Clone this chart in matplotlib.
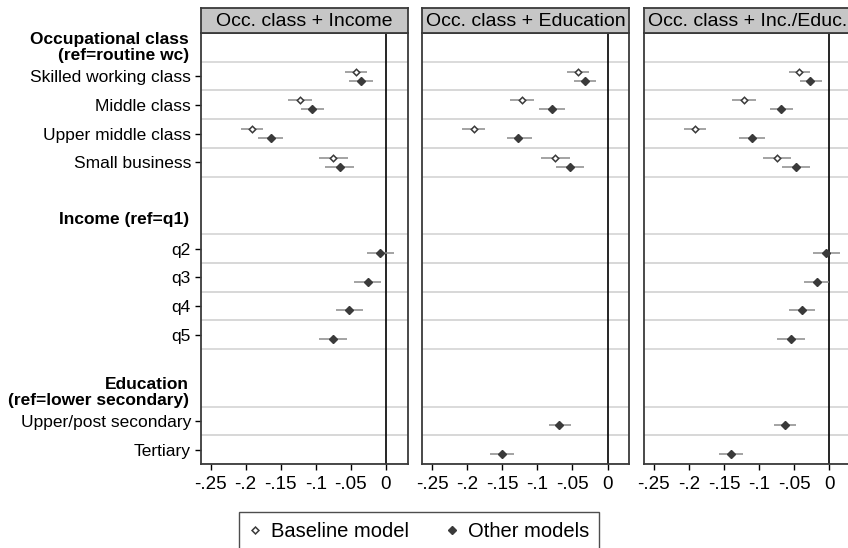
import numpy as np
import matplotlib
matplotlib.use("Agg")
import matplotlib.pyplot as plt
from matplotlib.lines import Line2D

plt.rcParams['font.family'] = ['Liberation Sans', 'DejaVu Sans']

# groups of rows: header text and the item labels under it
group_headers = ["Occupational class\n(ref=routine wc)", "Income (ref=q1)",
                 "Education\n(ref=lower secondary)"]
group_items = [["Skilled working class", "Middle class", "Upper middle class", "Small business"],
               ["q2", "q3", "q4", "q5"],
               ["Upper/post secondary", "Tertiary"]]

panel_titles = ["Occ. class + Income", "Occ. class + Education", "Occ. class + Inc./Educ."]

xticks = [-0.25, -0.2, -0.15, -0.1, -0.05, 0]
xtick_labels = ["-.25", "-.2", "-.15", "-.1", "-.05", "0"]

# baseline model (occupational class only), same in every panel
base_est = [-0.0425, -0.122, -0.191, -0.075]
base_lo = [-0.058, -0.139, -0.207, -0.095]
base_hi = [-0.027, -0.105, -0.175, -0.054]

nan = np.nan
# other models, one list per panel over all 10 item rows
other_est = [
    [-0.036, -0.105, -0.164, -0.066, -0.008, -0.026, -0.052, -0.076, nan, nan],
    [-0.032, -0.079, -0.127, -0.053, nan, nan, nan, nan, -0.069, -0.150],
    [-0.027, -0.069, -0.110, -0.047, -0.004, -0.018, -0.039, -0.055, -0.063, -0.140],
]
other_lo = [
    [-0.052, -0.121, -0.182, -0.087, -0.027, -0.045, -0.071, -0.095, nan, nan],
    [-0.048, -0.097, -0.144, -0.073, nan, nan, nan, nan, -0.084, -0.167],
    [-0.042, -0.085, -0.128, -0.068, -0.023, -0.036, -0.058, -0.074, -0.079, -0.157],
]
other_hi = [
    [-0.019, -0.088, -0.147, -0.045, 0.012, -0.007, -0.033, -0.056, nan, nan],
    [-0.016, -0.061, -0.108, -0.033, nan, nan, nan, nan, -0.052, -0.134],
    [-0.010, -0.051, -0.091, -0.027, 0.016, -0.001, -0.021, -0.035, -0.048, -0.123],
]

# row positions: header, items, then a blank row between groups
header_pos, item_pos, item_labels = [], [], []
r = 0
for g, (h, items) in enumerate(zip(group_headers, group_items)):
    header_pos.append(r)
    r += 1
    for it in items:
        item_pos.append(r)
        item_labels.append(it)
        r += 1
    if g < len(group_headers) - 1:
        r += 1
nrows = r
item_pos = np.array(item_pos)
off = 0.157

W, H = 848, 548
fig = plt.figure(figsize=(W / 100, H / 100), dpi=100)

lefts = [200.7, 422.3, 644.0]
pw = 207.0
top, bottom = 33.0, 464.0
strip_h = 25.0
dark = "#3a3a3a"
fs = 12.5

for p in range(3):
    ax = fig.add_axes([lefts[p] / W, 1 - bottom / H, pw / W, (bottom - top) / H])
    ax.set_xlim(-0.264, 0.031)
    ax.set_ylim(nrows - 0.5, -0.5)

    # light gridlines around each item row
    for y in item_pos:
        ax.axhline(y - 0.5, color="#d8d8d8", lw=1.3, zorder=0)
        ax.axhline(y + 0.5, color="#d8d8d8", lw=1.3, zorder=0)
    ax.axvline(0, color="black", lw=1.2, zorder=1)

    # baseline (hollow)
    yb = item_pos[:len(base_est)] - off
    ax.hlines(yb, base_lo, base_hi, color="#8a8a8a", lw=1.1, zorder=2)
    ax.plot(base_est, yb, "D", ms=3.3, mfc="white", mec=dark, mew=1.1, zorder=3)

    # other models (filled)
    yo = item_pos + off
    ax.hlines(yo, other_lo[p], other_hi[p], color="#8a8a8a", lw=1.1, zorder=2)
    ax.plot(other_est[p], yo, "D", ms=4.2, color=dark, mec=dark, zorder=3)

    ax.set_xticks(xticks)
    ax.set_xticklabels(xtick_labels, fontsize=13.5)
    ax.tick_params(axis="x", direction="out", length=4.5, width=1.0, pad=4, colors="black")
    if p == 0:
        ax.set_yticks(item_pos)
        ax.set_yticklabels(item_labels, fontsize=fs)
        ax.tick_params(axis="y", direction="out", length=4, width=1.0, pad=3)
        for hp, ht in zip(header_pos, group_headers):
            ax.text(-0.058, hp, ht, transform=ax.get_yaxis_transform(), ha="right",
                    va="center", fontsize=fs, fontweight="bold", linespacing=1.1)
    else:
        ax.set_yticks([])
    for s in ax.spines.values():
        s.set_color(dark)
        s.set_linewidth(1.3)

    # strip header
    sax = fig.add_axes([lefts[p] / W, 1 - top / H, pw / W, strip_h / H])
    sax.set_facecolor("#c6c6c6")
    sax.set_xticks([])
    sax.set_yticks([])
    for s in sax.spines.values():
        s.set_color(dark)
        s.set_linewidth(1.3)
    sax.text(0.5, 0.45, panel_titles[p], ha="center", va="center", fontsize=14)

handles = [Line2D([], [], ls="none", marker="D", ms=3.5, mfc="white", mec=dark, mew=1.1),
           Line2D([], [], ls="none", marker="D", ms=4.0, color=dark)]
leg = fig.legend(handles, ["Baseline model", "Other models"], loc="upper center",
                 bbox_to_anchor=(419 / W, 1 - 512 / H), ncol=2, frameon=True,
                 fancybox=False, edgecolor="#222222", fontsize=14.5, borderpad=0.5,
                 borderaxespad=0, handlelength=0.6, handletextpad=0.5, columnspacing=1.8)
leg.get_frame().set_linewidth(1.0)

fig.savefig("out.png", dpi=100)
